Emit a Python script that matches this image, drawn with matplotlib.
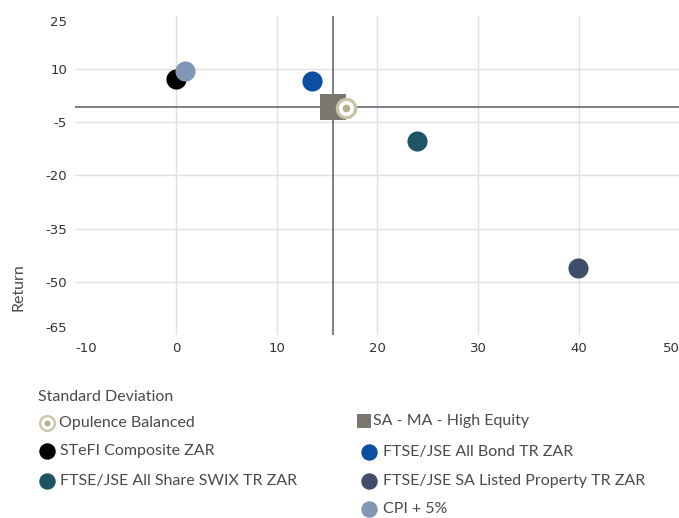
#!/usr/bin/env python3
"""Risk/return scatter: return vs standard deviation for a fund, its peer group and indices."""
import matplotlib.pyplot as plt

plt.rcParams["axes.unicode_minus"] = False

names = ["Opulence Balanced", "SA - MA - High Equity", "STeFI Composite ZAR",
         "FTSE/JSE All Bond TR ZAR", "FTSE/JSE All Share SWIX TR ZAR",
         "FTSE/JSE SA Listed Property TR ZAR", "CPI + 5%"]
std_dev = [16.9, 15.6, 0.0, 13.5, 23.9, 39.9, 0.9]
returns = [-1.0, -0.7, 7.2, 6.6, -10.3, -46.0, 9.5]
colors = ["#c9c3a6", "#7b776e", "#000000", "#0b4ea2", "#1f5465", "#404d68", "#8197b5"]

x_ticks = [-10, 0, 10, 20, 30, 40, 50]
y_ticks = [25, 10, -5, -20, -35, -50, -65]

TEXT = "#4a4a4a"
TICK = "#333333"
LABEL_FONT = ["Lato", "DejaVu Sans"]

fig = plt.figure(figsize=(6.79, 5.18), dpi=100)
ax = fig.add_axes([75.4 / 679, 183 / 518, 604 / 679, 319.3 / 518])

ax.set_xlim(x_ticks[0], x_ticks[-1])
ax.set_ylim(y_ticks[-1], y_ticks[0])
ax.set_xticks(x_ticks)
ax.set_yticks(y_ticks)
for s in ax.spines.values():
    s.set_visible(False)
ax.tick_params(length=0, labelsize=9.5, labelcolor=TICK)
ax.tick_params(axis="x", pad=5)
ax.tick_params(axis="y", pad=6)
ax.grid(True, color="#e0e0e0", lw=1)
ax.set_axisbelow(True)

# no grid lines along the plot edges
for lines in (ax.xaxis.get_gridlines(), ax.yaxis.get_gridlines()):
    lines[0].set_visible(False)
    lines[-1].set_visible(False)

# keep the end labels inside the figure
xl = ax.get_xticklabels()
xl[0].set_ha("left")
xl[-1].set_ha("right")
yl = ax.get_yticklabels()
yl[0].set_va("top")
yl[-1].set_va("bottom")

# crosshair through the peer group
ax.axvline(std_dev[1], color="#5c5a6e", lw=1.1, zorder=2)
ax.axhline(returns[1], color="#5c5a6e", lw=1.1, zorder=2)

for i in range(2, len(names)):
    ax.scatter(std_dev[i], returns[i], s=210, color=colors[i], lw=0, zorder=3)
ax.scatter(std_dev[1], returns[1], s=330, marker="s", color=colors[1], lw=0, zorder=4)
# fund: ring marker
ax.scatter(std_dev[0], returns[0], s=240, color=colors[0], lw=0, zorder=5)
ax.scatter(std_dev[0], returns[0], s=120, color="white", lw=0, zorder=6)
ax.scatter(std_dev[0], returns[0], s=30, color="#b5ae8d", lw=0, zorder=7)

fig.text(18 / 679, 1 - 287 / 518, "Return", rotation=90, ha="center", va="center",
         color=TEXT, fontsize=11.5, family=LABEL_FONT)

# legend area, laid out in pixel coordinates
lg = fig.add_axes([0, 0, 1, 1], zorder=-1)
lg.set_xlim(0, 679)
lg.set_ylim(518, 0)
lg.axis("off")
lg.text(38, 397, "Standard Deviation", ha="left", va="center", color=TEXT,
        fontsize=11.5, family=LABEL_FONT)

slots = [(47, 423, 59), (364, 421, 373), (47, 451, 60), (369, 452, 383),
         (47, 481, 60), (369, 481, 383), (369, 509, 383)]
for i, (mx, my, tx) in enumerate(slots):
    if i == 0:
        lg.scatter(mx, my, s=150, color=colors[0], lw=0)
        lg.scatter(mx, my, s=80, color="white", lw=0)
        lg.scatter(mx, my, s=18, color="#b5ae8d", lw=0)
    elif i == 1:
        lg.scatter(mx, my, s=95, marker="s", color=colors[1], lw=0)
    else:
        lg.scatter(mx, my, s=140, color=colors[i], lw=0)
    lg.text(tx, my, names[i], ha="left", va="center", color=TEXT,
            fontsize=11.5, family=LABEL_FONT)

fig.savefig("out.png", dpi=100)
